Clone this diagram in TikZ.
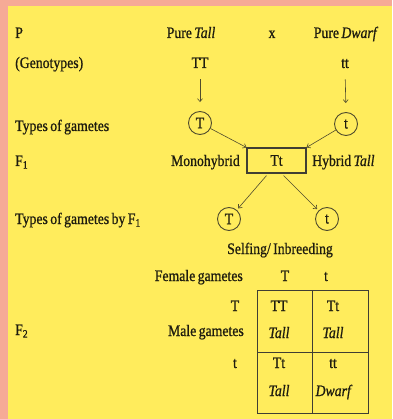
\documentclass[tikz,border=0pt]{standalone}
\usepackage{fontspec}
\setmainfont[FakeStretch=0.86,FakeBold=0.8,WordSpace=0.7]{Liberation Serif}
\usetikzlibrary{arrows.meta}
\definecolor{bgyellow}{RGB}{255,236,92}
\definecolor{bgsalmon}{RGB}{246,170,150}
\definecolor{inkc}{RGB}{30,28,15}
\definecolor{linec}{RGB}{80,76,45}
\begin{document}
\begin{tikzpicture}[x=1pt,y=-1pt,
  lbl/.style={font=\fontsize{16}{18}\selectfont, inner sep=0pt, text=inkc},
  gam/.style={circle, draw=linec, line width=0.9pt, minimum size=23pt, inner sep=0pt, text=inkc, font=\fontsize{16}{18}\selectfont},
  arr/.style={draw=linec, line width=0.6pt, -{Straight Barb[length=3pt,width=5pt]}},
  gridln/.style={draw=inkc!85, line width=1pt}]
\useasboundingbox (0,0) rectangle (392,419);
\fill[bgsalmon] (0,0) rectangle (392,419);
\fill[bgyellow] (8,6) rectangle (392,419);
% left column labels
\node[lbl, anchor=base west] (lP) at (15,38) {P};
\node[lbl, anchor=base west] (lG) at (15,68) {(Genotypes)};
\node[lbl, anchor=base west] (lT) at (15,131) {Types of gametes};
\node[lbl, anchor=base west] (lF1) at (15,166) {F\textsubscript{1}};
\node[lbl, anchor=base west] (lTF) at (15,224) {Types of gametes by F\textsubscript{1}};
\node[lbl, anchor=base west] (lF2) at (15,335) {F\textsubscript{2}};
% parents
\node[lbl, anchor=base] (pt) at (191,38) {Pure \textit{Tall}};
\node[lbl, anchor=base] (px) at (272,38) {x};
\node[lbl, anchor=base] (pd) at (346,38) {Pure \textit{Dwarf}};
\node[lbl, anchor=base] (TT) at (200,68) {TT};
\node[lbl, anchor=base] (tt) at (345,68) {tt};
% gametes
\node[gam] (T1) at (200,123) {T};
\node[gam] (t1) at (346,124) {t};
\draw[arr, shorten <=11pt, shorten >=9pt] (TT.south) -- (T1.north);
\draw[arr, shorten <=11pt, shorten >=9pt] (tt.south) -- (t1.north);
% F1
\node[draw=inkc!85, line width=1.1pt, minimum width=59pt, minimum height=25pt, inner sep=0pt, lbl] (F1) at (276.5,160.5) {Tt};
\node[lbl, anchor=base east] (mono) at (240,166) {Monohybrid};
\node[lbl, anchor=base west] (hyb) at (312,166) {Hybrid \textit{Tall}};
\draw[arr] (T1) -- (F1.north west);
\draw[arr] (t1) -- (F1.north east);
% F1 gametes
\node[gam] (T2) at (229,219) {T};
\node[gam] (t2) at (327,219) {t};
\draw[arr, shorten >=2pt] ([xshift=-10pt,yshift=-2pt]F1.south) -- (T2);
\draw[arr, shorten >=2pt] ([xshift=7pt,yshift=-2pt]F1.south) -- (t2);
\node[lbl, anchor=base] (self) at (280,254) {Selfing/ Inbreeding};
% Punnett
\node[lbl, anchor=base east] (fem) at (243,281) {Female gametes};
\node[lbl, anchor=base] (fT) at (285,281) {T};
\node[lbl, anchor=base] (ft) at (326,281) {t};
\node[lbl, anchor=base] (mT) at (235,311) {T};
\node[lbl, anchor=base east] (male) at (244,336) {Male gametes};
\node[lbl, anchor=base] (mt) at (235,368) {t};
\coordinate (gA) at (257,290);
\coordinate (gB) at (368,413);
\coordinate (gMt) at (312,290);
\coordinate (gMb) at (312,413);
\coordinate (gLl) at (257,352);
\coordinate (gLr) at (368,352);
\draw[gridln] (gA) rectangle (gB);
\draw[gridln] (gMt) -- (gMb);
\draw[gridln] (gLl) -- (gLr);
\node[lbl, anchor=base] (c11) at (279,311) {TT};
\node[lbl, anchor=base] (c11b) at (279,338) {\textit{Tall}};
\node[lbl, anchor=base] (c12) at (333,311) {Tt};
\node[lbl, anchor=base] (c12b) at (333,338) {\textit{Tall}};
\node[lbl, anchor=base] (c21) at (279,368) {Tt};
\node[lbl, anchor=base] (c21b) at (279,396) {\textit{Tall}};
\node[lbl, anchor=base] (c22) at (333,368) {tt};
\node[lbl, anchor=base] (c22b) at (334,396) {\textit{Dwarf}};
\end{tikzpicture}
\end{document}
